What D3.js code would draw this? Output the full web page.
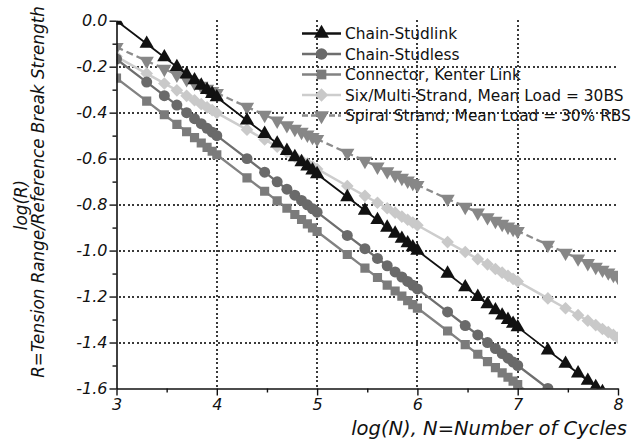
<!DOCTYPE html>
<html>
<head>
<meta charset="utf-8">
<script src="https://cdn.jsdelivr.net/npm/d3@7"></script>
<style>
  html, body { margin: 0; padding: 0; background: #fff; }
  text { font-family: "DejaVu Sans", "Liberation Sans", Arial, sans-serif; }
</style>
</head>
<body>
<svg id="chart" width="639" height="445"></svg>
<script>
// log10 of cycle counts: 1..10 steps inside each decade, 10^3 .. 10^8
const logN = [
  3, 3.301, 3.477, 3.602, 3.699, 3.778, 3.845, 3.903, 3.954,
  4, 4.301, 4.477, 4.602, 4.699, 4.778, 4.845, 4.903, 4.954,
  5, 5.301, 5.477, 5.602, 5.699, 5.778, 5.845, 5.903, 5.954,
  6, 6.301, 6.477, 6.602, 6.699, 6.778, 6.845, 6.903, 6.954,
  7, 7.301, 7.477, 7.602, 7.699, 7.778, 7.845, 7.903, 7.954,
  8
];

// log(R) for each component, paired with logN by index
const chainStudlink = [
  0.000, -0.100, -0.159, -0.201, -0.233, -0.259, -0.282, -0.301, -0.318,
  -0.333, -0.434, -0.492, -0.534, -0.566, -0.593, -0.615, -0.634, -0.651,
  -0.667, -0.767, -0.826, -0.867, -0.900, -0.926, -0.948, -0.968, -0.985,
  -1.000, -1.100, -1.159, -1.201, -1.233, -1.259, -1.282, -1.301, -1.318,
  -1.333, -1.434, -1.492, -1.534, -1.566, -1.593, -1.615
];
const chainStudless = [
  -0.167, -0.267, -0.326, -0.367, -0.400, -0.426, -0.448, -0.468, -0.485,
  -0.500, -0.600, -0.659, -0.701, -0.733, -0.759, -0.782, -0.801, -0.818,
  -0.833, -0.934, -0.992, -1.034, -1.066, -1.093, -1.115, -1.134, -1.151,
  -1.167, -1.267, -1.326, -1.367, -1.400, -1.426, -1.448, -1.468, -1.485,
  -1.500, -1.600, -1.659
];
const kenterLink = [
  -0.250, -0.350, -0.409, -0.451, -0.483, -0.509, -0.532, -0.551, -0.568,
  -0.583, -0.684, -0.742, -0.784, -0.816, -0.843, -0.865, -0.884, -0.901,
  -0.917, -1.017, -1.076, -1.117, -1.150, -1.176, -1.198, -1.218, -1.235,
  -1.250, -1.350, -1.409, -1.451, -1.483, -1.509, -1.532, -1.551, -1.568,
  -1.583, -1.684
];
const multiStrand = [
  -0.156, -0.230, -0.273, -0.303, -0.327, -0.346, -0.363, -0.377, -0.389,
  -0.401, -0.474, -0.517, -0.548, -0.571, -0.591, -0.607, -0.621, -0.634,
  -0.645, -0.719, -0.762, -0.792, -0.816, -0.835, -0.852, -0.866, -0.878,
  -0.890, -0.963, -1.006, -1.037, -1.060, -1.080, -1.096, -1.110, -1.123,
  -1.134, -1.208, -1.251, -1.281, -1.305, -1.324, -1.341, -1.355, -1.367,
  -1.379
];
const spiralStrand = [
  -0.115, -0.175, -0.210, -0.235, -0.255, -0.271, -0.284, -0.296, -0.306,
  -0.315, -0.375, -0.410, -0.435, -0.455, -0.471, -0.484, -0.496, -0.506,
  -0.515, -0.575, -0.610, -0.635, -0.655, -0.671, -0.684, -0.696, -0.706,
  -0.715, -0.775, -0.810, -0.835, -0.855, -0.871, -0.884, -0.896, -0.906,
  -0.915, -0.975, -1.010, -1.035, -1.055, -1.071, -1.084, -1.096, -1.106,
  -1.115
];

const seriesNames = [
  "Chain-Studlink",
  "Chain-Studless",
  "Connector, Kenter Link",
  "Six/Multi-Strand, Mean Load = 30BS",
  "Spiral Strand, Mean Load = 30% RBS"
];

const xTicks = [3, 4, 5, 6, 7, 8];
const xMinorTicks = [3.5, 4.5, 5.5, 6.5, 7.5];
const yTicks = [0, -0.2, -0.4, -0.6, -0.8, -1.0, -1.2, -1.4, -1.6];
const yMinorTicks = [-0.1, -0.3, -0.5, -0.7, -0.9, -1.1, -1.3, -1.5];
const xGrid = [4, 5, 6, 7];
const yGrid = [-0.2, -0.4, -0.6, -0.8, -1.0, -1.2, -1.4];

const xTitle = "log(N), N=Number of Cycles";
const yTitle1 = "log(R)";
const yTitle2 = "R=Tension Range/Reference Break Strength";

// ---- layout and scales ----
const svg = d3.select("#chart");
const plotL = 116.5, plotR = 618, plotT = 20.7, plotB = 388.5;

const x = d3.scaleLinear().domain([3, 8]).range([plotL, plotR]);
const y = d3.scaleLinear().domain([-1.6, 0]).range([plotB, plotT]);

svg.append("defs").append("clipPath").attr("id", "plotClip")
  .append("rect")
  .attr("x", plotL).attr("y", plotT)
  .attr("width", plotR - plotL).attr("height", plotB - plotT);

// dotted grid at the inner major ticks: rows of small square dots
const dotStep = 4.5;
const gridG = svg.append("g").attr("fill", "#3a3a3a").attr("shape-rendering", "crispEdges");
xGrid.forEach(v => {
  gridG.selectAll(null).data(d3.range(plotB - 3, plotT, -dotStep)).join("rect")
    .attr("x", Math.round(x(v)) - 1).attr("y", d => Math.round(d) - 1)
    .attr("width", 2).attr("height", 2);
});
yGrid.forEach(v => {
  gridG.selectAll(null).data(d3.range(plotL + 3, plotR, dotStep)).join("rect")
    .attr("x", d => Math.round(d) - 1).attr("y", Math.round(y(v)) - 1)
    .attr("width", 2).attr("height", 2);
});

// series styles
const styles = [
  { values: chainStudlink, line: "#111", mark: "#111", width: 1.8, dash: null, shape: "tri", size: 88 },
  { values: chainStudless, line: "#6e6e6e", mark: "#6a6a6a", width: 2.3, dash: null, shape: "circle", size: 95 },
  { values: kenterLink, line: "#828282", mark: "#7b7b7b", width: 2.3, dash: null, shape: "square", size: 84 },
  { values: multiStrand, line: "#cdcdcd", mark: "#c9c9c9", width: 2.5, dash: null, shape: "diamond", size: 80 },
  { values: spiralStrand, line: "#8c8c8c", mark: "#878787", width: 2.3, dash: "7,4", shape: "triDown", size: 88 }
];

function symbolPath(shape, size) {
  if (shape === "tri" || shape === "triDown") return d3.symbol(d3.symbolTriangle, size)();
  if (shape === "circle") return d3.symbol(d3.symbolCircle, size)();
  return d3.symbol(d3.symbolSquare, size)();
}
function symbolRotate(shape) {
  if (shape === "triDown") return " rotate(180)";
  if (shape === "diamond") return " rotate(45)";
  return "";
}

const lineGen = d3.line().x(d => x(d[0])).y(d => y(d[1]));
const plot = svg.append("g").attr("clip-path", "url(#plotClip)");

// draw back to front: spiral, multi-strand, kenter, studless, studlink
const order = [4, 3, 2, 1, 0];
order.forEach(i => {
  const s = styles[i];
  const pts = s.values.map((v, k) => [logN[k], v]);
  const g = plot.append("g");
  g.append("path").datum(pts)
    .attr("d", lineGen)
    .attr("fill", "none")
    .attr("stroke", s.line)
    .attr("stroke-width", s.width)
    .attr("stroke-dasharray", s.dash);
  g.selectAll("path.m").data(pts).join("path")
    .attr("class", "m")
    .attr("d", symbolPath(s.shape, s.size))
    .attr("transform", d => `translate(${x(d[0])},${y(d[1])})` + symbolRotate(s.shape))
    .attr("fill", s.mark);
});

// ---- axes ----
const axisFont = 16;
const xAxis = svg.append("g").attr("class", "axis").attr("transform", `translate(0,${plotB})`)
  .call(d3.axisBottom(x).tickValues(xTicks).tickSize(7).tickSizeOuter(0).tickPadding(3)
    .tickFormat(d => String(d)));
xAxis.append("g").call(d3.axisBottom(x).tickValues(xMinorTicks).tickSize(4).tickFormat(""))
  .select(".domain").remove();

const yAxis = svg.append("g").attr("class", "axis").attr("transform", `translate(${plotL},0)`)
  .call(d3.axisLeft(y).tickValues(yTicks).tickSize(7).tickSizeOuter(0).tickPadding(2)
    .tickFormat(d => d.toFixed(1)));
yAxis.append("g").call(d3.axisLeft(y).tickValues(yMinorTicks).tickSize(4).tickFormat(""))
  .select(".domain").remove();

svg.selectAll(".axis .domain").attr("stroke", "#111").attr("stroke-width", 1.6);
svg.selectAll(".axis .tick line").attr("stroke", "#111").attr("stroke-width", 1.4);
svg.selectAll(".axis .tick text")
  .attr("fill", "#111")
  .style("font-family", '"DejaVu Sans", "Liberation Sans", Arial, sans-serif')
  .style("font-style", "italic")
  .style("font-size", axisFont + "px");

// ---- axis titles ----
svg.append("text")
  .attr("x", 627).attr("y", 435)
  .attr("text-anchor", "end")
  .style("font-style", "italic")
  .style("font-size", "19.5px")
  .attr("fill", "#111")
  .text(xTitle);

svg.append("text")
  .attr("transform", "translate(27,205) rotate(-90)")
  .attr("text-anchor", "middle")
  .style("font-style", "italic")
  .style("font-size", "16.8px")
  .attr("fill", "#111")
  .text(yTitle1);

svg.append("text")
  .attr("transform", "translate(44,192) rotate(-90)")
  .attr("text-anchor", "middle")
  .style("font-style", "italic")
  .style("font-size", "16.8px")
  .attr("fill", "#111")
  .text(yTitle2);

// ---- legend ----
const legend = svg.append("g").attr("transform", "translate(302,33.5)");
const rowH = 20.5;
styles.forEach((s, i) => {
  const row = legend.append("g").attr("transform", `translate(0,${i * rowH})`);
  row.append("line")
    .attr("x1", 0).attr("x2", 39).attr("y1", 0).attr("y2", 0)
    .attr("stroke", s.line).attr("stroke-width", 2.6)
    .attr("stroke-dasharray", s.dash ? "6,3" : null);
  row.append("path")
    .attr("d", symbolPath(s.shape, s.size + 10))
    .attr("transform", "translate(19.5,0)" + symbolRotate(s.shape))
    .attr("fill", s.mark);
  row.append("text")
    .attr("x", 43).attr("y", 0).attr("dy", "0.36em")
    .style("font-size", "15.4px")
    .attr("fill", "#111")
    .text(seriesNames[i]);
});
</script>
</body>
</html>
